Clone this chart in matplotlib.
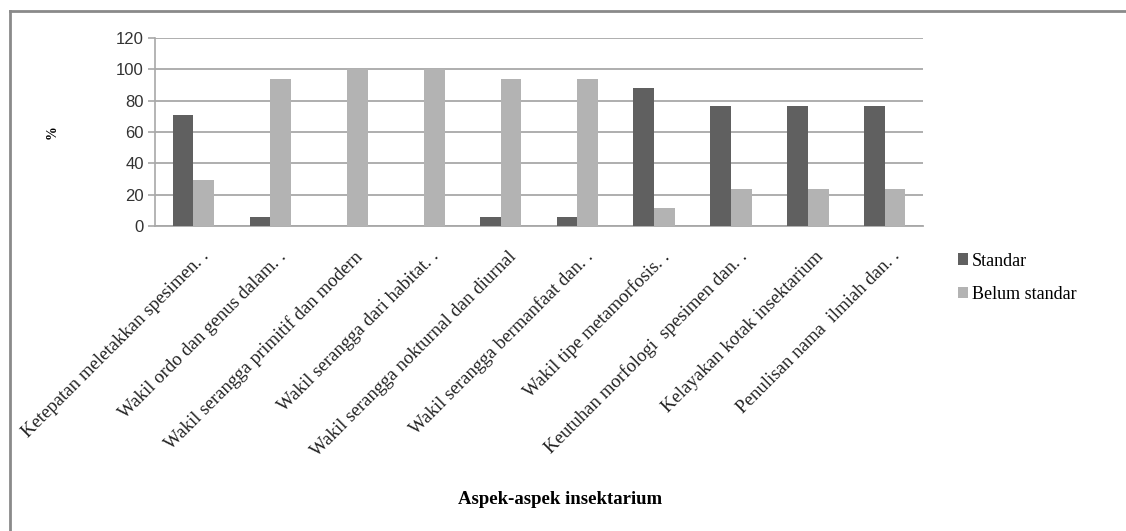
import numpy as np
import matplotlib
matplotlib.use('Agg')
import matplotlib.pyplot as plt
from matplotlib.lines import Line2D
import matplotlib.transforms as mtransforms

# Data (n = 17, in %)
aspects = [
    "Ketepatan meletakkan spesimen. .",
    "Wakil ordo dan genus dalam. .",
    "Wakil serangga primitif dan modern",
    "Wakil serangga dari habitat. .",
    "Wakil serangga nokturnal dan diurnal",
    "Wakil serangga bermanfaat dan. .",
    "Wakil tipe metamorfosis. .",
    "Keutuhan morfologi  spesimen dan. .",
    "Kelayakan kotak insektarium",
    "Penulisan nama  ilmiah dan. .",
]
standar = [70.6, 5.9, 0, 0, 5.9, 5.9, 88.2, 76.5, 76.5, 76.5]
belum_standar = [29.4, 94.1, 100, 100, 94.1, 94.1, 11.8, 23.5, 23.5, 23.5]
y_ticks = [0, 20, 40, 60, 80, 100, 120]

fig = plt.figure(figsize=(11.26, 5.31), dpi=100)
ax = fig.add_axes([0.1377, 0.5744, 0.682, 0.354])

x = np.arange(len(aspects))
w = 0.27
ax.bar(x - w / 2, standar, w, color="#606060", label="Standar", zorder=3)
ax.bar(x + w / 2, belum_standar, w, color="#b3b3b3", label="Belum standar", zorder=3)

ax.set_xlim(-0.5, len(aspects) - 0.5)
ax.set_ylim(0, 120)
ax.set_yticks(y_ticks)
ax.set_yticklabels([str(v) for v in y_ticks], fontsize=12,
                   family="Liberation Sans", color="#333333")
ax.yaxis.grid(True, color="#a8a8a8", linewidth=1.3, zorder=0)
ax.tick_params(axis="y", length=5, color="#a8a8a8", width=1.2, pad=3)
ax.tick_params(axis="x", length=0, pad=2)

for s in ["top", "right"]:
    ax.spines[s].set_visible(False)
ax.spines["left"].set_color("#a8a8a8")
ax.spines["left"].set_linewidth(1.2)
ax.spines["bottom"].set_color("#a8a8a8")
ax.spines["bottom"].set_linewidth(1.3)

ax.set_xticks(x)
ax.set_xticklabels(aspects, rotation=45, ha="right", va="top",
                   rotation_mode="anchor", fontsize=13.5,
                   family="Liberation Serif", color="#222222")
offset = mtransforms.ScaledTranslation(0.07, -0.19, fig.dpi_scale_trans)
for lab in ax.get_xticklabels():
    lab.set_transform(lab.get_transform() + offset)

fig.text(0.046, 0.752, "%", rotation=90, ha="center", va="center",
         fontsize=10, fontweight="bold", family="Liberation Serif")
fig.text(0.497, 0.06, "Aspek-aspek insektarium", ha="center", va="center",
         fontsize=13.5, fontweight="bold", family="Liberation Serif")

leg = ax.legend(loc="center left", bbox_to_anchor=(0.836, 0.477),
                bbox_transform=fig.transFigure, frameon=False,
                handlelength=0.6, handleheight=0.6, handletextpad=0.2,
                labelspacing=0.9, prop={"family": "Liberation Serif", "size": 13})

# outer frame (left and top edges visible in the reference)
fig.add_artist(Line2D([0.0089, 0.0089], [0.0, 0.979], transform=fig.transFigure,
                      color="#8a8a8a", linewidth=2))
fig.add_artist(Line2D([0.0089, 1.0], [0.979, 0.979], transform=fig.transFigure,
                      color="#8a8a8a", linewidth=2))

fig.savefig("out.png", dpi=100, facecolor="white")
